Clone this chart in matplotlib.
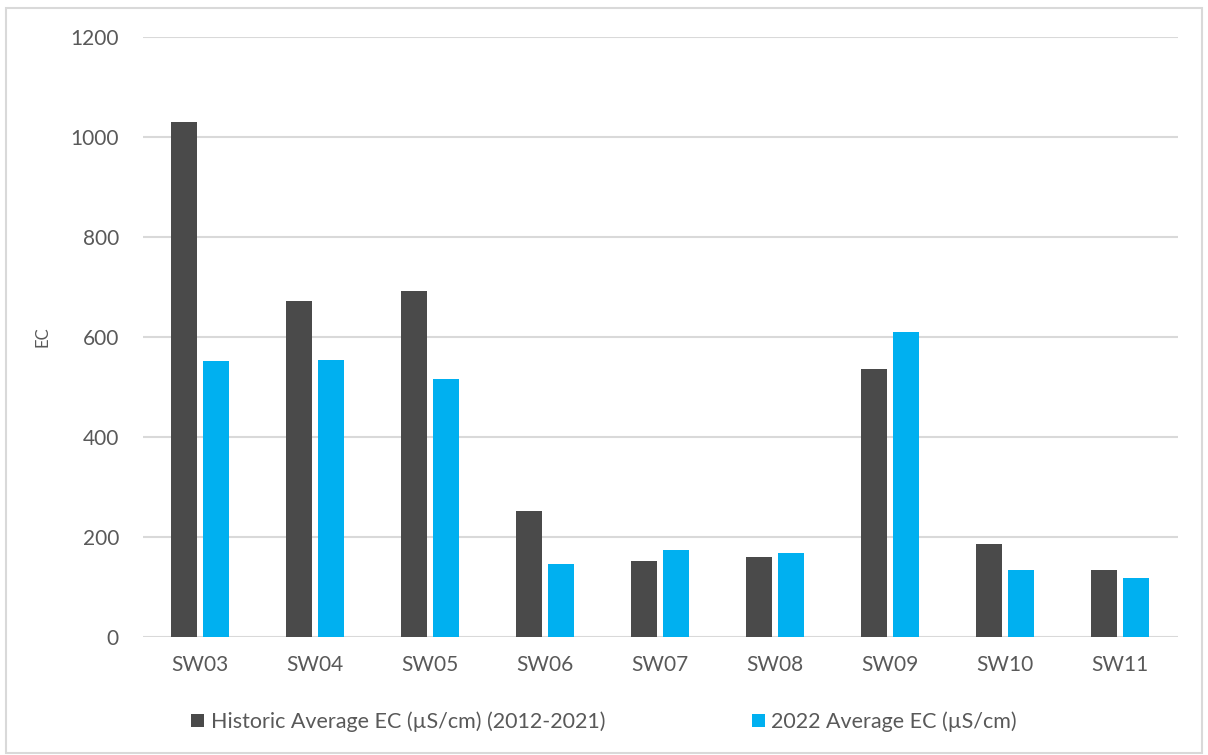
import matplotlib
matplotlib.use("Agg")
import matplotlib.pyplot as plt
import numpy as np
from matplotlib.patches import Rectangle

sites = ["SW03", "SW04", "SW05", "SW06", "SW07", "SW08", "SW09", "SW10", "SW11"]
historic = [1030, 672, 692, 252, 152, 160, 536, 186, 134]
avg_2022 = [552, 554, 516, 147, 175, 168, 610, 134, 119]
yticks = [0, 200, 400, 600, 800, 1000, 1200]
label_hist = "Historic Average EC (µS/cm) (2012-2021)"
label_2022 = "2022 Average EC (µS/cm)"

plt.rcParams['font.family'] = ['Lato', 'DejaVu Sans']
txt = "#595959"

fig = plt.figure(figsize=(12.08, 7.55), dpi=100)
ax = fig.add_axes([0.118, 0.156, 0.857, 0.795])

x = np.arange(len(sites))
w = 0.226
gap = 0.05
ax.bar(x - (w + gap) / 2, historic, width=w, color="#4a4a4a", label=label_hist, zorder=3)
ax.bar(x + (w + gap) / 2, avg_2022, width=w, color="#00b0f0", label=label_2022, zorder=3)

ax.set_xlim(-0.5, len(sites) - 0.5)
ax.set_ylim(0, 1200)
ax.set_yticks(yticks)
ax.set_yticklabels([str(v) for v in yticks])
ax.set_xticks(x)
ax.set_xticklabels(sites)
ax.grid(axis="y", color="#d9d9d9", linewidth=1.5, zorder=0)
ax.set_axisbelow(True)
for s in ax.spines.values():
    s.set_visible(False)
ax.tick_params(axis="both", length=0, colors=txt, labelsize=15)
ax.tick_params(axis="y", pad=17)
ax.tick_params(axis="x", pad=13)
ax.set_ylabel("EC", color=txt, fontsize=12, labelpad=14)

leg = fig.legend(loc="center", bbox_to_anchor=(0.5, 0.044), ncol=2, frameon=False,
                 fontsize=15.5, handlelength=0.6, handleheight=0.6, handletextpad=0.3,
                 columnspacing=6.8)
for t in leg.get_texts():
    t.set_color(txt)

fig.patches.append(Rectangle((0.005, 0.003), 0.99, 0.987, transform=fig.transFigure,
                             fill=False, edgecolor="#d9d9d9", linewidth=1.5))

fig.savefig("out.png", dpi=100)
